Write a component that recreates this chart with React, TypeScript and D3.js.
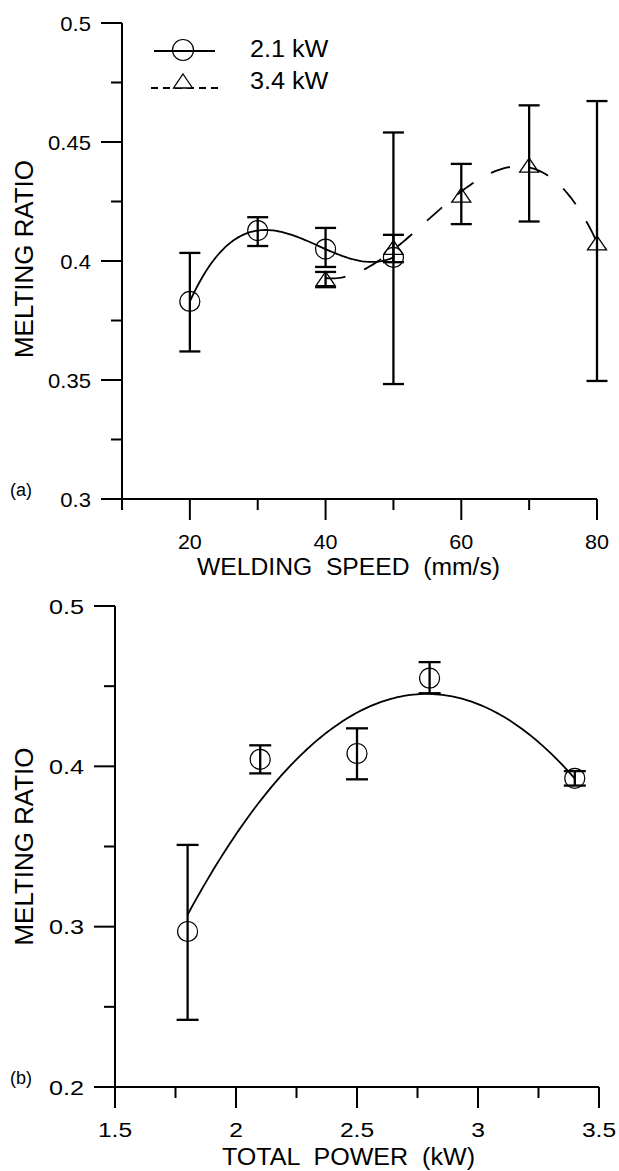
import React from "react";
import * as d3 from "d3";

// ---------- data ----------
// (a) melting ratio vs welding speed
const speed21 = [20, 30, 40, 50];
const ratio21 = [0.383, 0.4128, 0.405, 0.4015];
const lo21 = [0.362, 0.4063, 0.3975, 0.3483];
const hi21 = [0.4034, 0.4184, 0.4139, 0.454];

const speed34 = [40, 50, 60, 70, 80];
const ratio34 = [0.3926, 0.4057, 0.4277, 0.4403, 0.4076];
const lo34 = [0.389, 0.3995, 0.4155, 0.4166, 0.3496];
const hi34 = [0.3954, 0.411, 0.4408, 0.4654, 0.4672];

// (b) melting ratio vs total power
const power = [1.8, 2.1, 2.5, 2.8, 3.4];
const ratioP = [0.297, 0.4044, 0.408, 0.455, 0.3925];
const loP = [0.2419, 0.3956, 0.3919, 0.4456, 0.388];
const hiP = [0.351, 0.4131, 0.4237, 0.465, 0.397];

// ticks
const xTicksA = [20, 40, 60, 80];
const xMinorA = [10, 30, 50, 70];
const yTicksA = [0.3, 0.35, 0.4, 0.45, 0.5];
const yMinorA = [0.325, 0.375, 0.425, 0.475];
const xTicksB = [1.5, 2, 2.5, 3, 3.5];
const xMinorB = [1.75, 2.25, 2.75, 3.25];
const yTicksB = [0.2, 0.3, 0.4, 0.5];
const yMinorB = [0.25, 0.35, 0.45];

const legendLabels = ["2.1 kW", "3.4 kW"];

// ---------- helpers ----------
function polyfit(xs: number[], ys: number[], deg: number) {
  const mx = d3.mean(xs) as number;
  const n = deg + 1;
  const A: number[][] = [];
  for (let i = 0; i < n; i++) {
    A.push(new Array(n + 1).fill(0));
  }
  xs.forEach((x0, k) => {
    const t = x0 - mx;
    for (let i = 0; i < n; i++) {
      for (let j = 0; j < n; j++) A[i][j] += Math.pow(t, i + j);
      A[i][n] += Math.pow(t, i) * ys[k];
    }
  });
  for (let c = 0; c < n; c++) {
    let p = c;
    for (let r = c + 1; r < n; r++) if (Math.abs(A[r][c]) > Math.abs(A[p][c])) p = r;
    [A[c], A[p]] = [A[p], A[c]];
    for (let r = 0; r < n; r++) {
      if (r === c) continue;
      const f = A[r][c] / A[c][c];
      for (let k = c; k <= n; k++) A[r][k] -= f * A[c][k];
    }
  }
  const coef = A.map((row, i) => row[n] / row[i]);
  return (x0: number) => {
    const t = x0 - mx;
    let s = 0;
    for (let i = 0; i < n; i++) s += coef[i] * Math.pow(t, i);
    return s;
  };
}

function samples(xs: number[], f: (x: number) => number) {
  const a = d3.min(xs) as number;
  const b = d3.max(xs) as number;
  return d3.range(0, 121).map((i) => {
    const x0 = a + ((b - a) * i) / 120;
    return [x0, f(x0)] as [number, number];
  });
}

const FONT = '"Liberation Sans", Arial, Helvetica, sans-serif';

const tri = (cx: number, cy: number) =>
  `M${cx},${cy - 7}L${cx + 9.5},${cy + 7}L${cx - 9.5},${cy + 7}Z`;

function Label(props: {
  x: number;
  y: number;
  size: number;
  sx?: number;
  anchor?: string;
  children: any;
}) {
  const { x, y, size, sx = 1, anchor = "middle", children } = props;
  return (
    <text
      transform={`translate(${x},${y}) scale(${sx},1)`}
      fontSize={size}
      fontFamily={FONT}
      textAnchor={anchor}
      fill="#000"
    >
      {children}
    </text>
  );
}

function Axes(props: {
  xs: d3.ScaleLinear<number, number>;
  ys: d3.ScaleLinear<number, number>;
  xT: number[];
  xM: number[];
  yT: number[];
  yM: number[];
  labelSx: number;
  fmtX: (v: number) => string;
}) {
  const { xs, ys, xT, xM, yT, yM, labelSx, fmtX } = props;
  const [x0, x1] = xs.range();
  const [y0, y1] = ys.range();
  return (
    <g stroke="#000" strokeWidth={2} fill="none">
      <line x1={x0} x2={x1} y1={y0} y2={y0} />
      <line x1={x0} x2={x0} y1={y0} y2={y1} />
      {xT.map((v) => (
        <line key={"xt" + v} x1={xs(v)} x2={xs(v)} y1={y0} y2={y0 + 21} />
      ))}
      {xM.map((v) => (
        <line key={"xm" + v} x1={xs(v)} x2={xs(v)} y1={y0} y2={y0 + 11} />
      ))}
      {yT.map((v) => (
        <line key={"yt" + v} x1={x0 - 21} x2={x0} y1={ys(v)} y2={ys(v)} />
      ))}
      {yM.map((v) => (
        <line key={"ym" + v} x1={x0 - 11} x2={x0} y1={ys(v)} y2={ys(v)} />
      ))}
      <g stroke="none">
        {xT.map((v) => (
          <Label key={"xl" + v} x={xs(v)} y={y0 + 50} size={20.5} sx={labelSx}>
            {fmtX(v)}
          </Label>
        ))}
        {yT.map((v) => (
          <Label
            key={"yl" + v}
            x={x0 - 31}
            y={ys(v) + 7.5}
            size={21}
            sx={labelSx}
            anchor="end"
          >
            {String(v)}
          </Label>
        ))}
      </g>
    </g>
  );
}

function ErrorBars(props: {
  xs: d3.ScaleLinear<number, number>;
  ys: d3.ScaleLinear<number, number>;
  x: number[];
  lo: number[];
  hi: number[];
  cap: number;
}) {
  const { xs, ys, x, lo, hi, cap } = props;
  return (
    <g stroke="#000" strokeWidth={2.3} fill="none">
      {x.map((v, i) => (
        <g key={i}>
          <line x1={xs(v)} x2={xs(v)} y1={ys(lo[i])} y2={ys(hi[i])} />
          <line x1={xs(v) - cap} x2={xs(v) + cap} y1={ys(lo[i])} y2={ys(lo[i])} />
          <line x1={xs(v) - cap} x2={xs(v) + cap} y1={ys(hi[i])} y2={ys(hi[i])} />
        </g>
      ))}
    </g>
  );
}

export default function App() {
  const xA = d3.scaleLinear().domain([10, 80]).range([122, 597]);
  const yA = d3.scaleLinear().domain([0.3, 0.5]).range([499, 23]);
  const xB = d3.scaleLinear().domain([1.5, 3.5]).range([115, 599]);
  const yB = d3.scaleLinear().domain([0.2, 0.5]).range([1087, 606]);

  const lineA = d3
    .line<[number, number]>()
    .x((d) => xA(d[0]))
    .y((d) => yA(d[1]));
  const lineB = d3
    .line<[number, number]>()
    .x((d) => xB(d[0]))
    .y((d) => yB(d[1]));

  const fit21 = samples(speed21, polyfit(speed21, ratio21, 3));
  const fit34 = samples(speed34, polyfit(speed34, ratio34, 3));
  const fitP = samples(power, polyfit(power, ratioP, 2));

  return (
    <svg
      width={619}
      height={1171}
      style={{ position: "absolute", left: 0, top: 0, background: "#fff" }}
    >
      <rect x={0} y={0} width={619} height={1171} fill="#fff" />

      {/* ---------- (a) ---------- */}
      <Axes
        xs={xA}
        ys={yA}
        xT={xTicksA}
        xM={xMinorA}
        yT={yTicksA}
        yM={yMinorA}
        labelSx={1.05}
        fmtX={(v) => String(v)}
      />
      <ErrorBars xs={xA} ys={yA} x={speed21} lo={lo21} hi={hi21} cap={10.5} />
      <ErrorBars xs={xA} ys={yA} x={speed34} lo={lo34} hi={hi34} cap={10.5} />
      <path d={lineA(fit21) || ""} fill="none" stroke="#000" strokeWidth={1.8} />
      <path
        d={lineA(fit34) || ""}
        fill="none"
        stroke="#000"
        strokeWidth={1.8}
        strokeDasharray="20 20"
      />
      {speed21.map((v, i) => (
        <circle
          key={"c" + i}
          cx={xA(v)}
          cy={yA(ratio21[i])}
          r={10}
          fill="none"
          stroke="#000"
          strokeWidth={1.2}
        />
      ))}
      {speed34.map((v, i) => (
        <path
          key={"t" + i}
          d={tri(xA(v), yA(ratio34[i]))}
          fill="none"
          stroke="#000"
          strokeWidth={1.3}
        />
      ))}

      {/* legend */}
      <line x1={154} x2={215} y1={51} y2={51} stroke="#000" strokeWidth={1.8} />
      <circle cx={183} cy={50} r={10.5} fill="none" stroke="#000" strokeWidth={1.2} />
      <line
        x1={151}
        x2={222}
        y1={88}
        y2={88}
        stroke="#000"
        strokeWidth={1.8}
        strokeDasharray="7 5"
      />
      <path d={tri(183, 81)} fill="#fff" stroke="#000" strokeWidth={1.3} />
      <Label x={250} y={57} size={24} sx={1.05} anchor="start">
        {legendLabels[0]}
      </Label>
      <Label x={250} y={89} size={24} sx={1.05} anchor="start">
        {legendLabels[1]}
      </Label>

      <Label x={21} y={496} size={18}>
        (a)
      </Label>
      <text
        transform="translate(33,259) rotate(-90)"
        fontSize={25}
        fontFamily={FONT}
        textAnchor="middle"
        textLength={198}
        lengthAdjust="spacingAndGlyphs"
      >
        MELTING RATIO
      </text>
      <text
        x={348.5}
        y={575}
        fontSize={23}
        fontFamily={FONT}
        textAnchor="middle"
        textLength={303}
        lengthAdjust="spacingAndGlyphs"
        style={{ whiteSpace: "pre" }}
      >
        {"WELDING  SPEED  (mm/s)"}
      </text>

      {/* ---------- (b) ---------- */}
      <Axes
        xs={xB}
        ys={yB}
        xT={xTicksB}
        xM={xMinorB}
        yT={yTicksB}
        yM={yMinorB}
        labelSx={1.2}
        fmtX={(v) => String(v)}
      />
      <ErrorBars xs={xB} ys={yB} x={power} lo={loP} hi={hiP} cap={11} />
      <path d={lineB(fitP) || ""} fill="none" stroke="#000" strokeWidth={1.8} />
      {power.map((v, i) => (
        <circle
          key={"p" + i}
          cx={xB(v)}
          cy={yB(ratioP[i])}
          r={10}
          fill="none"
          stroke="#000"
          strokeWidth={1.2}
        />
      ))}
      <Label x={21} y={1084} size={18}>
        (b)
      </Label>
      <text
        transform="translate(33,846.5) rotate(-90)"
        fontSize={25}
        fontFamily={FONT}
        textAnchor="middle"
        textLength={198}
        lengthAdjust="spacingAndGlyphs"
      >
        MELTING RATIO
      </text>
      <text
        x={348.5}
        y={1165}
        fontSize={23}
        fontFamily={FONT}
        textAnchor="middle"
        textLength={253}
        lengthAdjust="spacingAndGlyphs"
        style={{ whiteSpace: "pre" }}
      >
        {"TOTAL  POWER  (kW)"}
      </text>
    </svg>
  );
}
